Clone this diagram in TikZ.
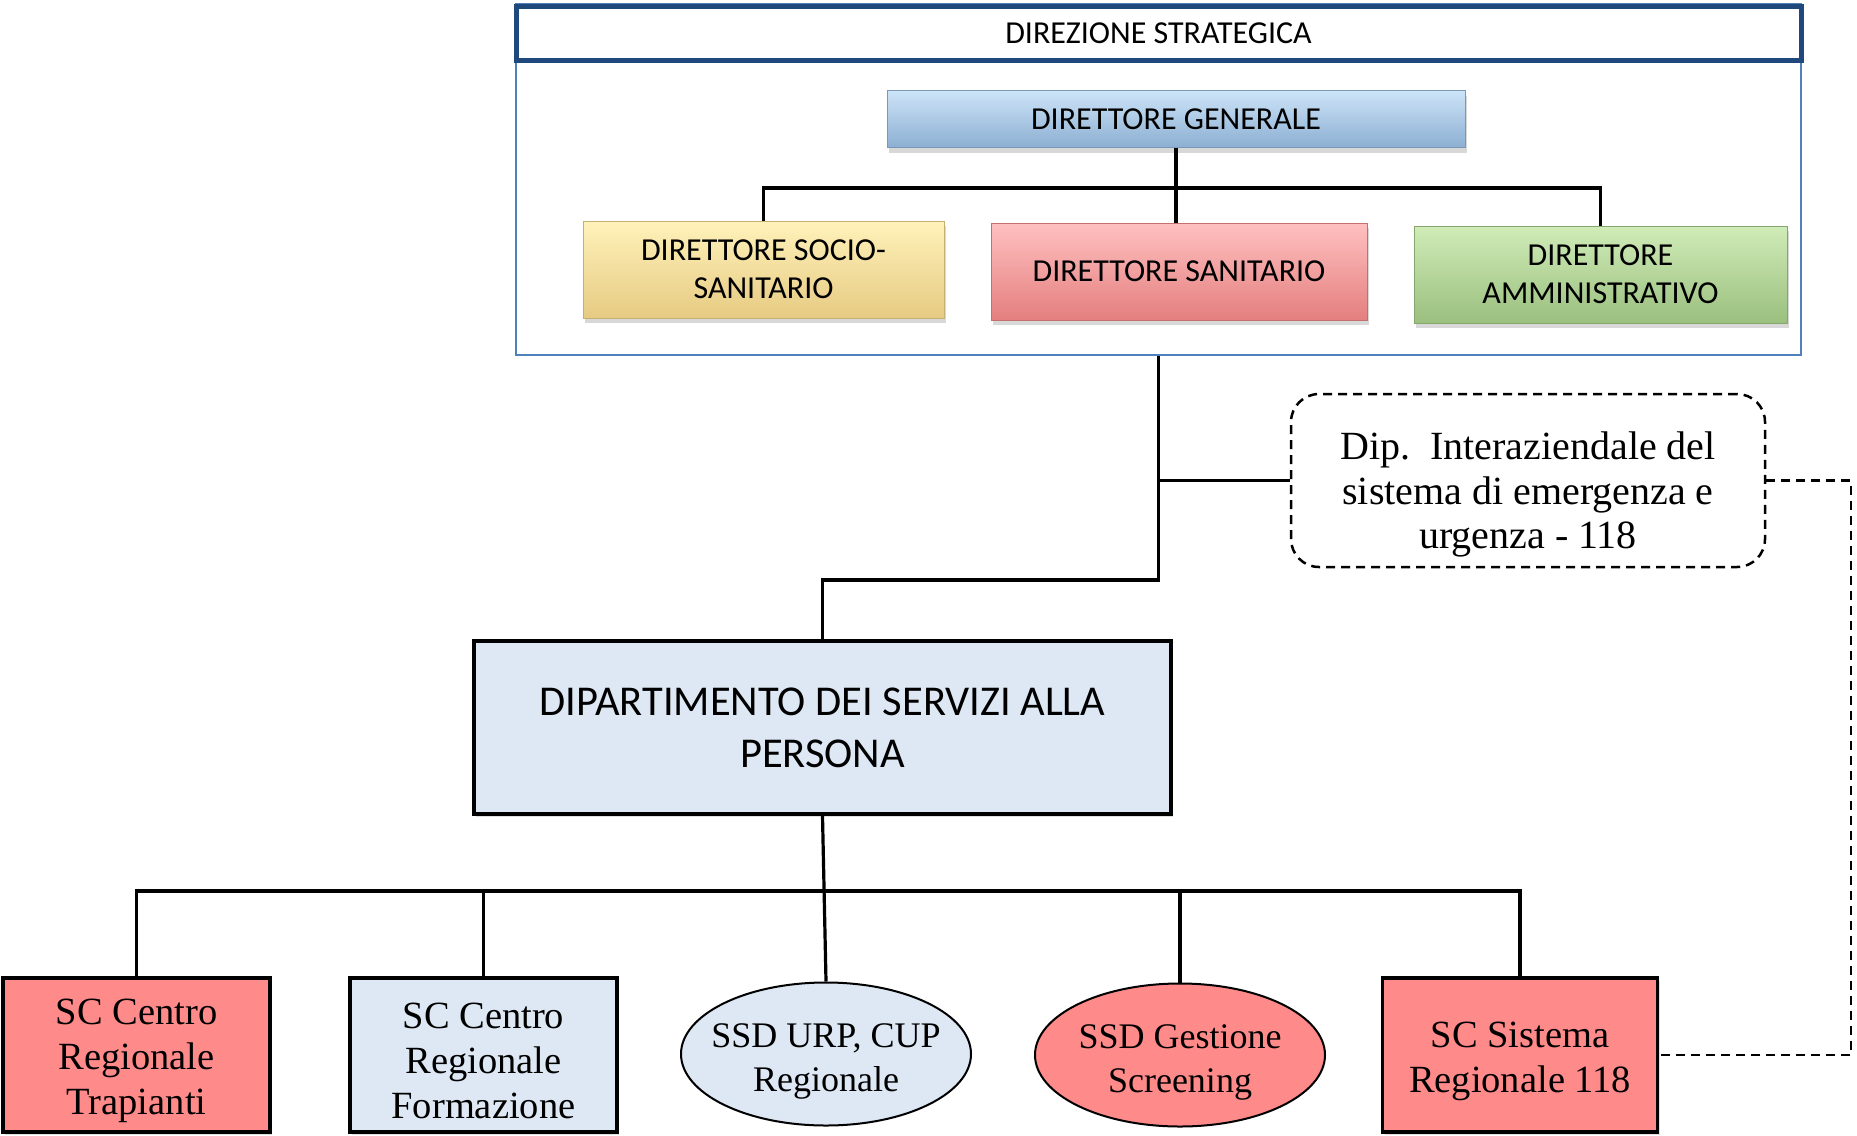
\documentclass[tikz,border=0pt]{standalone}
\usepackage{fontspec}
\setmainfont{Carlito}
\newfontfamily\cambria{Liberation Serif}
\usetikzlibrary{shapes.geometric,shadows}
\definecolor{stratline}{RGB}{31,73,125}
\definecolor{stratframe}{RGB}{79,129,189}
\definecolor{dgblue}{RGB}{152,190,228}
\definecolor{dgbluelt}{RGB}{205,228,248}
\definecolor{socyel}{RGB}{250,220,142}
\definecolor{socyellt}{RGB}{255,242,186}
\definecolor{sanred}{RGB}{248,138,138}
\definecolor{sanredlt}{RGB}{255,192,192}
\definecolor{ammgreen}{RGB}{168,208,138}
\definecolor{ammgreenlt}{RGB}{208,236,184}
\definecolor{paleblue}{RGB}{221,232,244}
\definecolor{salmon}{RGB}{255,138,138}
\newcommand{\toppad}[1]{\rule{0pt}{#1}}
\begin{document}
\begin{tikzpicture}[x=1pt,y=-1pt,
  conn/.style={line width=3.2pt},
  dashconn/.style={line width=2.5pt,dash pattern=on 9pt off 6pt},
  topbox/.style 2 args={draw=#1!80!black,line width=0.6pt,top color=#2,middle color=#1,bottom color=#1!92!black,
    minimum height=97pt,inner sep=0pt,align=center,font=\fontsize{32}{38}\selectfont,
    drop shadow={shadow xshift=2pt,shadow yshift=-5pt,opacity=0.3}},
  unitbox/.style={rectangle,draw,line width=3.5pt,fill=#1,minimum width=267pt,minimum height=154pt,
    inner sep=0pt,align=center,font=\cambria\fontsize{38.5}{45}\selectfont,
    drop shadow={shadow xshift=2pt,shadow yshift=-3pt,opacity=0.25}},
  unitoval/.style={ellipse,draw,line width=2pt,fill=#1,minimum width=290pt,minimum height=143pt,
    inner xsep=-22pt,inner ysep=0pt,align=center,font=\cambria\fontsize{36}{44}\selectfont}]
\pgfmathsetmacro{\rowy}{1055}
\useasboundingbox (0,0) rectangle (1857,1135);
\fill[white] (0,0) rectangle (1857,1135);
%
\node[draw=stratframe,line width=2pt,minimum width=1285pt,minimum height=351pt] (strat) at (1158.5,179.5) {};
\node[draw=stratline,line width=5pt,fill=white,minimum width=1285pt,minimum height=54pt,
  font=\fontsize{32}{38}\selectfont] (head) at (1158.5,33) {DIREZIONE STRATEGICA};
%
\node[topbox={dgblue}{dgbluelt},minimum width=578pt,minimum height=57pt] (dg) at (1176,119) {DIRETTORE GENERALE};
\node[topbox={socyel}{socyellt},minimum width=361pt] (socio) at (763.5,269.5) {DIRETTORE SOCIO-\\SANITARIO};
\node[topbox={sanred}{sanredlt},minimum width=376pt] (san) at (1179,271.5) {DIRETTORE SANITARIO};
\node[topbox={ammgreen}{ammgreenlt},minimum width=373pt] (amm) at (1600.5,274.5) {DIRETTORE\\AMMINISTRATIVO};
%
\coordinate (dgbar) at (1172,188);
\draw[conn] (dg.south) -- (dg.south |- san.north);
\draw[conn,line width=3.8pt] (socio.north) |- (dgbar) -| (amm.north);
%
\node[draw,dashconn,rounded corners=28pt,minimum width=474pt,minimum height=173pt,align=center,
  font=\cambria\fontsize{40}{44.5}\selectfont] (dip) at (1528,480.5)
  {\toppad{56pt}Dip.\ \ Interaziendale del\\sistema di emergenza e\\urgenza - 118};
\node[draw,line width=3.5pt,fill=paleblue,minimum width=697pt,minimum height=173pt,align=center,
  font=\fontsize{42.5}{52}\selectfont,drop shadow={shadow xshift=2pt,shadow yshift=-3pt,opacity=0.25}]
  (dept) at (822.5,727.5) {DIPARTIMENTO DEI SERVIZI ALLA\\PERSONA};
%
\coordinate (midjoin) at (1160,580);
\draw[conn] (strat.south) -- (strat.south |- midjoin) -| (dept.north);
\draw[conn] (strat.south |- dip.west) -- (dip.west);
%
\node[unitbox=salmon] (trap) at (136.5,\rowy) {\toppad{38pt}SC Centro\\Regionale\\Trapianti};
\node[unitbox=paleblue] (form) at (483.5,\rowy) {\toppad{38pt}SC Centro\\Regionale\\Formazione};
\node[unitoval=paleblue] (urp) at (826,1054) {\toppad{38pt}SSD URP, CUP\\Regionale};
\node[unitoval=salmon] (scr) at (1180,\rowy) {\toppad{38pt}SSD Gestione\\Screening};
\node[unitbox=salmon,minimum width=275pt] (sis) at (1520,\rowy) {\toppad{38pt}SC Sistema\\Regionale 118};
%
\coordinate (lowbar) at (822.5,891);
\draw[conn] (dept.south) -- (urp.north);
\draw[conn] (trap.north) |- (lowbar) -| (sis.north);
\draw[conn] (form.north) -- (form.north |- lowbar);
\draw[conn] (scr.north) -- (scr.north |- lowbar);
%
\coordinate (dashturn) at (1851,700);
\draw[dashconn] (dip.east) -| (dashturn) |- (sis.east);
\end{tikzpicture}
\end{document}
